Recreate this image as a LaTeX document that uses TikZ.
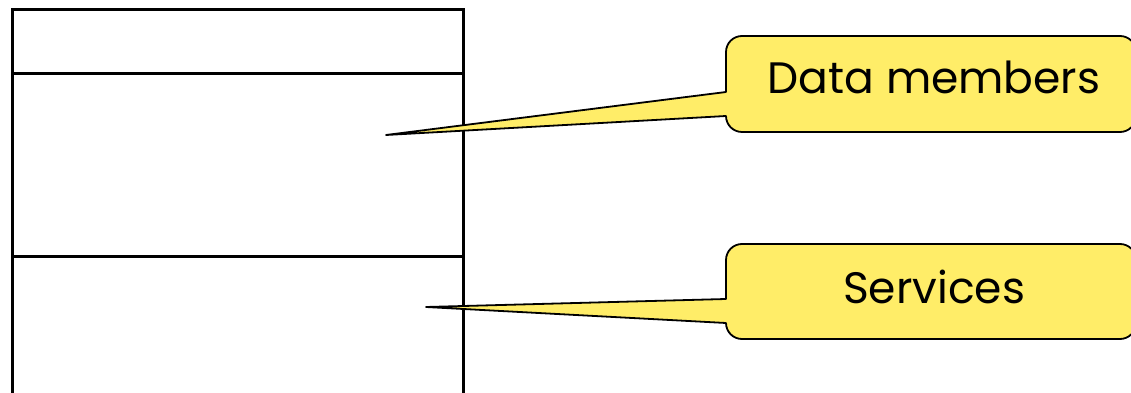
\documentclass[tikz,border=0pt]{standalone}
\usepackage{fontspec}
\setmainfont{Poppins}
\definecolor{calloutfill}{RGB}{255,237,104}
\begin{document}
\begin{tikzpicture}[x=1pt,y=1pt,
  classline/.style={line width=3pt,black},
  callout/.style={fill=calloutfill,draw=black,line width=1.8pt,line join=round},
  lbl/.style={font=\fontsize{44}{50}\selectfont,inner sep=0pt,anchor=base}]
\useasboundingbox (0,0) rectangle (1131,393);
\clip (0,0) rectangle (1131,393);

% class box: name, data members and services compartments
\draw[classline] (12,-5) -- (12,383) -- (463,383) -- (463,-5);
\draw[classline] (12,319) -- (463,319);
\draw[classline] (12,136) -- (463,136);

% callout pointer tips
\coordinate (tipA) at (386,258);
\coordinate (tipB) at (426,86);

% callout for the data members
\draw[callout] (tipA) -- (726,301) -- (726,341)
  arc[start angle=180,end angle=90,radius=16] -- (1120,357)
  arc[start angle=90,end angle=0,radius=16] -- (1136,277)
  arc[start angle=0,end angle=-90,radius=16] -- (742,261)
  arc[start angle=-90,end angle=-180,radius=16] -- cycle;
\node[lbl] (dm) at (934,299) {Data members};

% callout for the services
\draw[callout] (tipB) -- (726,94) -- (726,133)
  arc[start angle=180,end angle=90,radius=16] -- (1120,149)
  arc[start angle=90,end angle=0,radius=16] -- (1136,70)
  arc[start angle=0,end angle=-90,radius=16] -- (742,54)
  arc[start angle=-90,end angle=-180,radius=16] -- cycle;
\node[lbl] (sv) at (934,89) {Services};
\end{tikzpicture}
\end{document}
